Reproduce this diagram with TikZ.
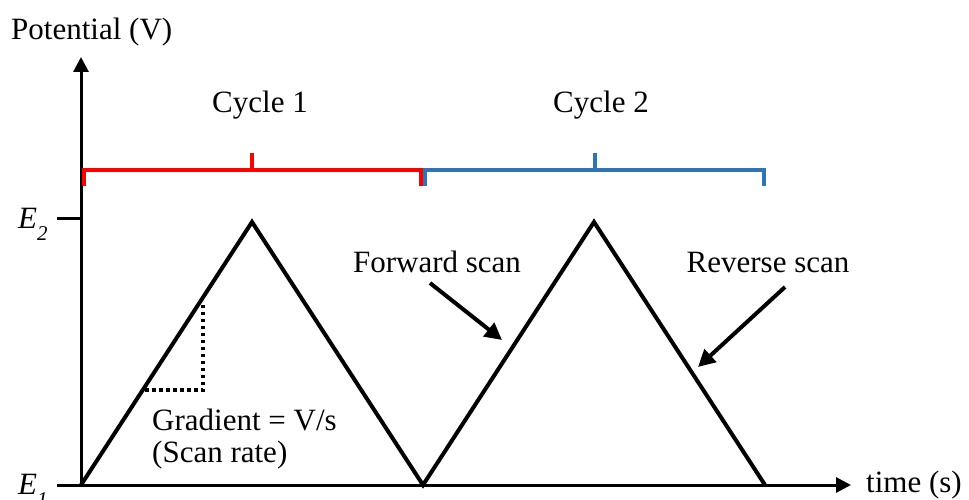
\documentclass[tikz,border=0pt]{standalone}
\usepackage{fontspec}
\setmainfont{Liberation Serif}
\usetikzlibrary{arrows.meta}
\definecolor{cycred}{RGB}{255,0,0}
\definecolor{cycblue}{RGB}{46,117,182}
\begin{document}
\begin{tikzpicture}[x=1pt,y=-1pt,
  lbl/.style={inner sep=0pt,font=\fontsize{31}{36}\selectfont},
  axisline/.style={line width=3pt,-{Triangle[length=15pt,width=15pt]}},
  wave/.style={line width=4pt,line join=miter},
  bracketline/.style={line width=4pt},
  pointer/.style={line width=4pt,-{Triangle[length=17pt,width=17pt]}},
  guide/.style={line width=3.5pt,dash pattern=on 3.5pt off 3.5pt}]
\useasboundingbox (0,0) rectangle (969,500);
% axes
\coordinate (O) at (81,485);
\coordinate (ytop) at (81,57);
\coordinate (xend) at (851,485);
\coordinate (e1l) at (57,485);
\coordinate (e2l) at (57,218);
\coordinate (e2r) at (82,218);
\draw[axisline] (e1l) -- (O) -- (xend);
\draw[axisline] (O) -- (ytop);
\draw[line width=3pt] (e2l) -- (e2r);
% waveform
\coordinate (p1) at (252,222);
\coordinate (m) at (423,485);
\coordinate (p2) at (594,222);
\coordinate (end) at (765,485);
\draw[wave] (O) -- (p1) -- (m) -- (p2) -- (end);
% gradient guide
\coordinate (g1) at (145,390);
\coordinate (g2) at (203,390);
\coordinate (g3) at (203,303);
\draw[guide] (g1) -- (g2) -- (g3);
% brackets
\coordinate (r1) at (84,186);
\coordinate (r2) at (84,170);
\coordinate (r3) at (421,170);
\coordinate (r4) at (421,186);
\coordinate (rm1) at (252,170);
\coordinate (rm2) at (252,153);
\draw[bracketline,cycred] (r1) -- (r2) -- (r3) -- (r4);
\draw[bracketline,cycred] (rm1) -- (rm2);
\coordinate (b1) at (425,186);
\coordinate (b2) at (425,170);
\coordinate (b3) at (764,170);
\coordinate (b4) at (764,186);
\coordinate (bm1) at (595,170);
\coordinate (bm2) at (595,153);
\draw[bracketline,cycblue] (b1) -- (b2) -- (b3) -- (b4);
\draw[bracketline,cycblue] (bm1) -- (bm2);
% labels
\node[lbl,anchor=base west] (ylab) at (11,40) {Potential (V)};
\node[lbl,anchor=base west] (xlab) at (866,492) {time (s)};
\node[lbl,anchor=base] (c1) at (260,113) {Cycle 1};
\node[lbl,anchor=base] (c2) at (601,113) {Cycle 2};
\node[lbl,anchor=base west] (e2) at (18,228) {\itshape E\raisebox{-0.4em}{\fontsize{21}{21}\selectfont 2}};
\node[lbl,anchor=base west] (e1) at (18,494) {\itshape E\raisebox{-0.4em}{\fontsize{21}{21}\selectfont 1}};
\node[lbl,anchor=base] (fw) at (437,272) {Forward scan};
\node[lbl,anchor=base] (rv) at (768,272) {Reverse scan};
\node[lbl,anchor=base west] (gr) at (152,430) {Gradient = V/s};
\node[lbl,anchor=base west] (sr) at (152,462) {(Scan rate)};
% pointers
\coordinate (fwa) at (430,283);
\coordinate (fwb) at (502,340);
\coordinate (rva) at (785,287);
\coordinate (rvb) at (698,367);
\draw[pointer] (fwa) -- (fwb);
\draw[pointer] (rva) -- (rvb);
\end{tikzpicture}
\end{document}
